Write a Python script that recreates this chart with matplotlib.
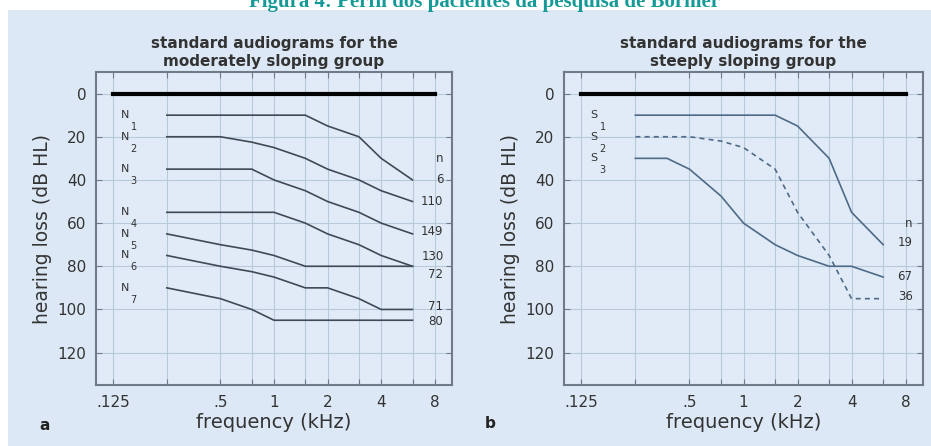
import matplotlib
matplotlib.use("Agg")
import matplotlib.pyplot as plt
from matplotlib.patches import Rectangle
import numpy as np

# audiogram data (dB HL)
freqs = [0.25, 0.5, 0.75, 1, 1.5, 2, 3, 4, 6]
N1 = [10, 10, 10, 10, 10, 15, 20, 30, 40]
N2 = [20, 20, 22.5, 25, 30, 35, 40, 45, 50]
N3 = [35, 35, 35, 40, 45, 50, 55, 60, 65]
N4 = [55, 55, 55, 55, 60, 65, 70, 75, 80]
N5 = [65, 70, 72.5, 75, 80, 80, 80, 80, 80]
N6 = [75, 80, 82.5, 85, 90, 90, 95, 100, 100]
N7 = [90, 95, 100, 105, 105, 105, 105, 105, 105]
n_mod = ["6", "110", "149", "130", "72", "71", "80"]
n_mod_y = [40, 50, 64, 75.5, 84, 98.5, 105.5]

S1 = [10, 10, 10, 10, 10, 15, 30, 55, 70]
S2 = [20, 20, 22, 25, 35, 55, 75, 95, 95]
freqs_s3 = [0.25, 0.375, 0.5, 0.75, 1, 1.5, 2, 3, 4, 6]
S3 = [30, 30, 35, 47.5, 60, 70, 75, 80, 80, 85]
n_steep = ["19", "67", "36"]
n_steep_y = [69.2, 84.6, 93.8]

tick_f = [0.125, 0.25, 0.5, 0.75, 1, 1.5, 2, 3, 4, 6, 8]
tick_lbl = [".125", "", ".5", "", "1", "", "2", "", "4", "", "8"]

bg = "#dce8f5"
txt = "#333333"
spine = "#6f7b88"

plt.rcParams['font.family'] = ['DejaVu Sans']

W, H = 931, 446
fig = plt.figure(figsize=(W / 100, H / 100), dpi=100, facecolor="white")
fig.patches.append(Rectangle((8 / W, 0), 1, 1 - 10 / H, transform=fig.transFigure,
                             facecolor=bg, edgecolor="none", zorder=-10))
fig.text(485 / W, 1 - 7.5 / H, "Figura 4: Perfil dos pacientes da pesquisa de Bornier",
         family="Liberation Serif", weight="bold", fontsize=15, color="#169a98",
         ha="center", va="baseline")


def setup(ax, title):
    ax.set_facecolor("#e0ebf7")
    ax.set_xscale("log")
    ax.set_xlim(0.1, 10)
    ax.set_ylim(135, -10)
    ax.set_xticks(tick_f)
    ax.set_xticklabels(tick_lbl)
    ax.xaxis.set_minor_locator(matplotlib.ticker.NullLocator())
    ax.set_yticks(range(0, 121, 20))
    ax.grid(True, color="#b7c9db", lw=0.8)
    ax.tick_params(direction="in", length=4, top=True, right=True, color=spine,
                   labelsize=11, labelcolor=txt, pad=7)
    for s in ax.spines.values():
        s.set_color(spine)
        s.set_linewidth(1.5)
    ax.set_xlabel("frequency (kHz)", fontsize=14, color=txt, labelpad=2)
    ax.set_ylabel("hearing loss (dB HL)", fontsize=13.5, color=txt, labelpad=4)
    ax.set_title(title, fontsize=11, weight="bold", color=txt, pad=4, linespacing=1.25)
    ax.plot([0.125, 8], [0, 0], color="black", lw=3)


# panel a
ax1 = fig.add_axes([96 / W, 1 - 385 / H, 356 / W, 313 / H])
setup(ax1, "standard audiograms for the\nmoderately sloping group")
c1 = "#3f4a55"
for i, s in enumerate([N1, N2, N3, N4, N5, N6, N7]):
    ax1.plot(freqs, s, color=c1, lw=1.2)
    ax1.text(0.146, s[0], "N", fontsize=8, color=txt, ha="center", va="center")
    ax1.text(0.163, s[0] + 5.5, str(i + 1), fontsize=7, color=txt, ha="center", va="center")
ax1.text(8.9, 30, "n", fontsize=8.5, color=txt, ha="right", va="center")
for lbl, y in zip(n_mod, n_mod_y):
    ax1.text(8.95, y, lbl, fontsize=8.5, color=txt, ha="right", va="center")

# panel b
ax2 = fig.add_axes([564 / W, 1 - 385 / H, 359 / W, 313 / H])
setup(ax2, "standard audiograms for the\nsteeply sloping group")
c2 = "#4f6a86"
ax2.plot(freqs, S1, color=c2, lw=1.2)
ax2.plot(freqs, S2, color=c2, lw=1.2, ls=(0, (3, 2.5)))
ax2.plot(freqs_s3, S3, color=c2, lw=1.2)
for i, s in enumerate([S1, S2, S3]):
    ax2.text(0.146, s[0], "S", fontsize=8, color=txt, ha="center", va="center")
    ax2.text(0.164, s[0] + 5.5, str(i + 1), fontsize=7, color=txt, ha="center", va="center")
ax2.text(8.7, 60, "n", fontsize=8.5, color=txt, ha="right", va="center")
for lbl, y in zip(n_steep, n_steep_y):
    ax2.text(8.75, y, lbl, fontsize=8.5, color=txt, ha="right", va="center")

fig.text(45 / W, 1 - 425 / H, "a", fontsize=11, weight="bold", color="#222222",
         ha="center", va="center")
fig.text(490 / W, 1 - 423 / H, "b", fontsize=11, weight="bold", color="#222222",
         ha="center", va="center")

fig.savefig("out.png", dpi=100, facecolor="white")
